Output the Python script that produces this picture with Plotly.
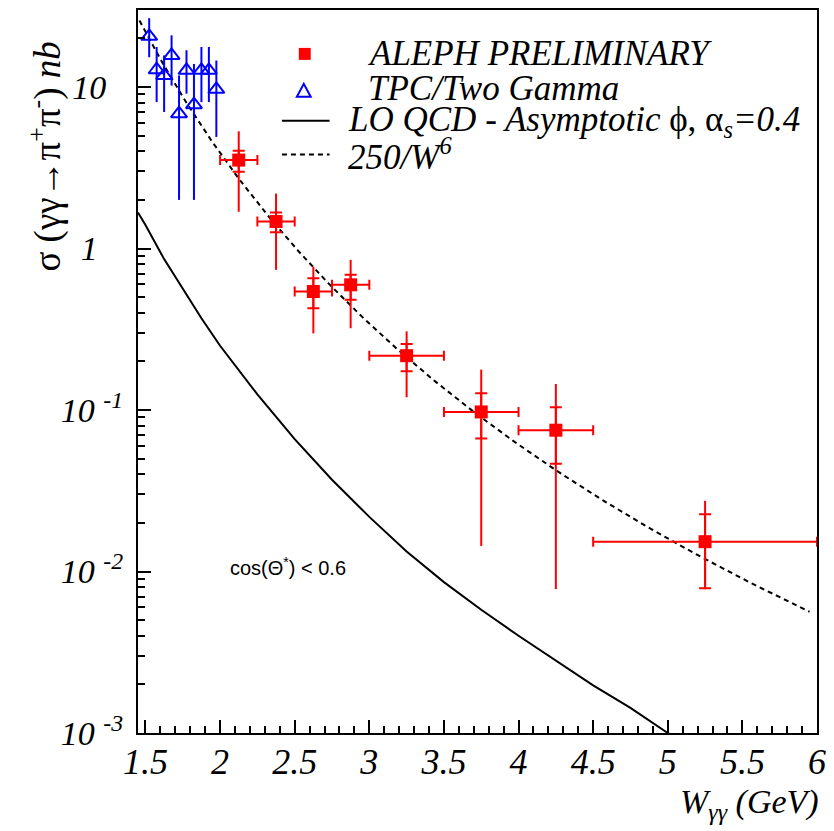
import numpy as np
import plotly.graph_objects as go

# ALEPH preliminary: bin centres, half-widths, cross-section and error limits (nb)
aleph_w = [2.125, 2.375, 2.625, 2.875, 3.25, 3.75, 4.25, 5.25]
aleph_dw = [0.125, 0.125, 0.125, 0.125, 0.25, 0.25, 0.25, 0.75]
aleph_sigma = [3.53, 1.47, 0.542, 0.596, 0.217, 0.0973, 0.075, 0.0153]
aleph_stat_hi = [4.03, 1.67, 0.654, 0.687, 0.256, 0.127, 0.104, 0.0226]
aleph_stat_lo = [2.99, 1.26, 0.427, 0.482, 0.174, 0.0667, 0.0465, 0.00788]
aleph_tot_hi = [5.32, 2.19, 0.773, 0.851, 0.307, 0.178, 0.145, 0.0274]
aleph_tot_lo = [1.69, 0.738, 0.298, 0.321, 0.120, 0.0144, 0.00778, 0.00778]

# TPC/Two Gamma measurements
tpc_w = [1.525, 1.575, 1.625, 1.675, 1.725, 1.775, 1.825, 1.875, 1.925, 1.975]
tpc_sigma = [20.6, 12.8, 11.8, 15.7, 6.84, 12.7, 7.78, 12.7, 12.7, 9.68]
tpc_hi = [26.7, 17.7, 15.7, 20.9, 11.8, 16.9, 13.9, 17.7, 17.7, 14.6]
tpc_lo = [15.3, 8.07, 7.01, 10.2, 2.0, 9.1, 2.0, 8.07, 8.07, 4.91]

# LO QCD prediction (asymptotic distribution amplitude, alpha_s = 0.4)
lo_w = [1.45, 1.5, 1.625, 1.75, 1.875, 2.0, 2.25, 2.5, 2.75, 3.0, 3.25, 3.5,
        3.75, 4.0, 4.25, 4.5, 4.75, 5.0, 5.1]
lo_sigma = [1.67, 1.40, 0.86, 0.56, 0.37, 0.25, 0.125, 0.066, 0.037, 0.0218,
            0.0133, 0.0086, 0.0058, 0.0040, 0.0028, 0.00197, 0.00143, 0.00100,
            0.00089]

# 250/W^6 scaling curve
fit_norm = 250.0
fit_power = 6
fit_w = np.linspace(1.46, 5.95, 200)
fit_sigma = fit_norm / fit_w ** fit_power

y_tickvals = [1e-3, 1e-2, 1e-1, 1, 10]
y_ticktext = ["10\u00a0<sup>-3</sup>", "10\u00a0<sup>-2</sup>", "10\u00a0<sup>-1</sup>",
              "1\u00a0\u00a0\u00a0", "10\u00a0\u00a0"]
x_tickvals = [1.5, 2, 2.5, 3, 3.5, 4, 4.5, 5, 5.5, 6]
x_ticktext = ["1.5", "2", "2.5", "3", "3.5", "4", "4.5", "5", "5.5", "6"]

RED = "#ff0000"
BLUE = "#0000ff"
SERIF = "Liberation Serif"

a_sig = np.array(aleph_sigma)

fig = go.Figure()

# LO QCD curve
fig.add_trace(go.Scatter(x=lo_w, y=lo_sigma, mode="lines",
                         line=dict(color="black", width=2), showlegend=False))
# 250/W^6 curve
fig.add_trace(go.Scatter(x=fit_w, y=fit_sigma, mode="lines",
                         line=dict(color="black", width=2, dash="5px,4px"),
                         showlegend=False))

# TPC points with vertical errors
t_sig = np.array(tpc_sigma)
fig.add_trace(go.Scatter(
    x=tpc_w, y=tpc_sigma, mode="markers",
    marker=dict(symbol="triangle-up-open", size=14, color=BLUE,
                line=dict(color=BLUE, width=2)),
    error_y=dict(type="data", symmetric=False,
                 array=np.array(tpc_hi) - t_sig,
                 arrayminus=t_sig - np.array(tpc_lo),
                 color=BLUE, thickness=2, width=0),
    showlegend=False))

# ALEPH total errors (no caps) and bin widths
fig.add_trace(go.Scatter(
    x=aleph_w, y=aleph_sigma, mode="markers",
    marker=dict(size=1, color=RED, opacity=0),
    error_y=dict(type="data", symmetric=False,
                 array=np.array(aleph_tot_hi) - a_sig,
                 arrayminus=a_sig - np.array(aleph_tot_lo),
                 color=RED, thickness=2, width=0),
    error_x=dict(type="data", array=aleph_dw, color=RED, thickness=2, width=5),
    showlegend=False))

# ALEPH points with statistical errors (capped)
fig.add_trace(go.Scatter(
    x=aleph_w, y=aleph_sigma, mode="markers",
    marker=dict(symbol="square", size=13, color=RED),
    error_y=dict(type="data", symmetric=False,
                 array=np.array(aleph_stat_hi) - a_sig,
                 arrayminus=a_sig - np.array(aleph_stat_lo),
                 color=RED, thickness=2, width=6),
    showlegend=False))

# pixel -> paper helpers for the frame-relative legend block
L, R, T, B = 138, 822, 8, 733


def px(p):
    return (p - L) / (R - L)


def py(p):
    return (B - p) / (B - T)


shapes = [
    dict(type="rect", xref="paper", yref="paper",
         x0=px(300), x1=px(312), y0=py(58), y1=py(46),
         fillcolor=RED, line=dict(width=0)),
    dict(type="path", xref="paper", yref="paper",
         path=f"M {px(298)},{py(95)} L {px(312)},{py(95)} L {px(305)},{py(82)} Z",
         line=dict(color=BLUE, width=2)),
    dict(type="line", xref="paper", yref="paper",
         x0=px(283), x1=px(331), y0=py(119), y1=py(119),
         line=dict(color="black", width=2)),
    dict(type="line", xref="paper", yref="paper",
         x0=px(283), x1=px(331), y0=py(153), y1=py(153),
         line=dict(color="black", width=2, dash="5px,4px")),
]

legend_font = dict(family=SERIF, size=35, color="black")
annotations = [
    dict(text="<i>ALEPH PRELIMINARY</i>", x=px(368), y=py(52)),
    dict(text="<i>TPC/Two Gamma</i>", x=px(368), y=py(87)),
    dict(text="<i>LO QCD - Asymptotic</i> ϕ, α<sub><i>s</i></sub><i>=0.4</i>",
         x=px(348), y=py(120)),
    dict(text="<i>250/W<sup>6</sup></i>", x=px(348), y=py(153)),
]
for a in annotations:
    a.update(xref="paper", yref="paper", xanchor="left", yanchor="middle",
             showarrow=False, font=legend_font)

annotations += [
    dict(text="cos(Θ<sup>*</sup>) < 0.6", x=px(289), y=py(566),
         xref="paper", yref="paper", xanchor="center", yanchor="middle",
         showarrow=False, font=dict(family="Liberation Sans", size=20, color="black")),
    dict(text="W<sub>γγ</sub> (GeV)", x=px(826), y=py(804),
         xref="paper", yref="paper", xanchor="right", yanchor="middle",
         showarrow=False, font=dict(family=SERIF, size=34, color="black", style="italic")),
    dict(text="σ (γγ→π<sup>+</sup>π<sup>-</sup>) <i>nb</i>", x=px(45), y=py(38),
         xref="paper", yref="paper", xanchor="center", yanchor="top", textangle=-90,
         showarrow=False, font=dict(family=SERIF, size=37, color="black")),
]

fig.update_layout(
    width=834, height=831,
    margin=dict(l=L, r=834 - R, t=T, b=831 - B),
    paper_bgcolor="white", plot_bgcolor="white",
    shapes=shapes, annotations=annotations, showlegend=False,
    xaxis=dict(
        range=[1.45, 6.0], showgrid=False, zeroline=False,
        showline=True, linecolor="black", linewidth=2, mirror=True,
        ticks="inside", ticklen=13, tickwidth=1.5, tickcolor="black",
        tickvals=x_tickvals, ticktext=x_ticktext, ticklabelstandoff=-4,
        tickfont=dict(family=SERIF, size=36, color="black", style="italic"),
        minor=dict(tickvals=[round(1.5 + 0.1 * i, 2) for i in range(46)],
                   ticks="inside", ticklen=7, tickwidth=1.5, tickcolor="black"),
    ),
    yaxis=dict(
        type="log", range=[-3, np.log10(30)], showgrid=False, zeroline=False,
        showline=True, linecolor="black", linewidth=2, mirror=True,
        ticks="inside", ticklen=13, tickwidth=1.5, tickcolor="black",
        tickvals=y_tickvals, ticktext=y_ticktext, ticklabelstandoff=6,
        tickfont=dict(family=SERIF, size=34, color="black", style="italic"),
        minor=dict(tickvals=[m * 10.0 ** k for k in range(-3, 2) for m in range(2, 10)],
                   ticks="inside", ticklen=7, tickwidth=1.5, tickcolor="black"),
    ),
)

fig.write_html("out.html")
